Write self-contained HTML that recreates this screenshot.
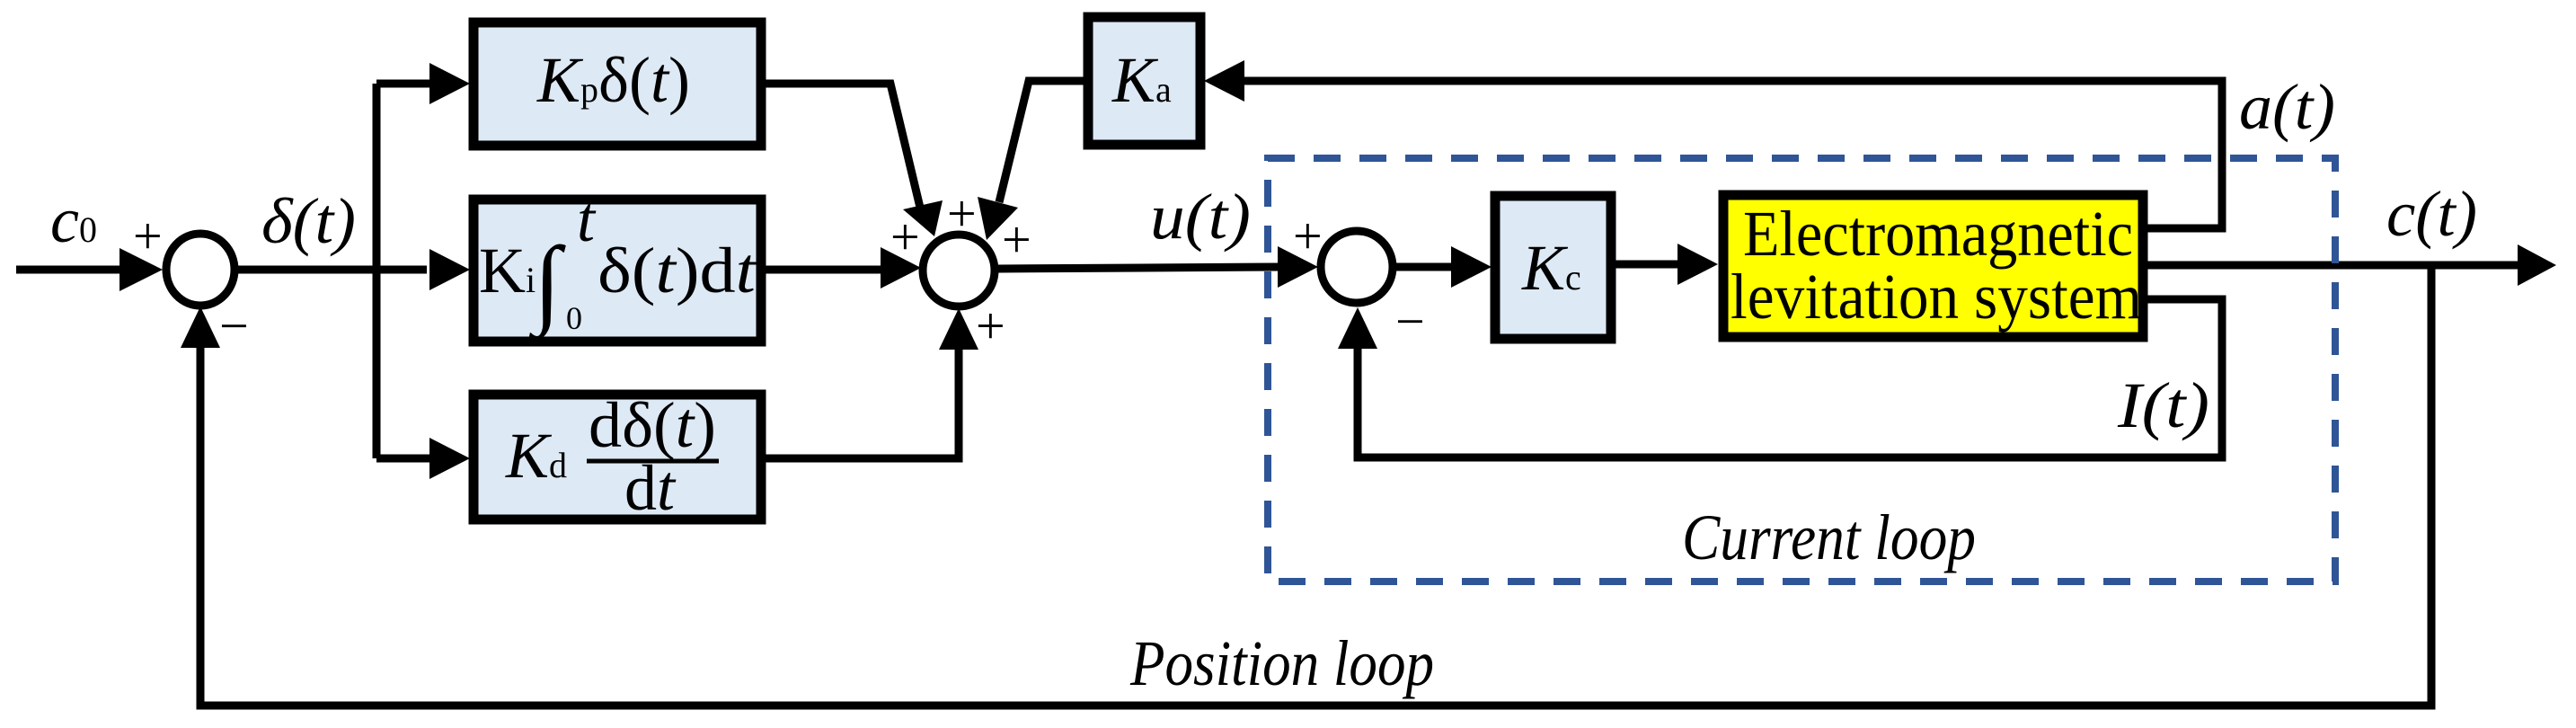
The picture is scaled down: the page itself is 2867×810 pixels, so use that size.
<!DOCTYPE html>
<html><head><meta charset="utf-8"><style>
html,body{margin:0;padding:0;background:#fff;}
svg{display:block;}
text{font-family:"Liberation Serif",serif;fill:#000;}
.m{font-style:italic;font-size:72px;}
.r{font-size:72px;}
.s{font-size:40px;}
.pm{font-size:58px;font-family:"Liberation Sans",sans-serif;}
</style></head><body>
<svg width="2867" height="810" viewBox="0 0 2867 810" xmlns="http://www.w3.org/2000/svg">
<g stroke="#000" stroke-width="9" fill="none">
<line x1="18" y1="300" x2="140" y2="300"/>
<line x1="265" y1="300" x2="475" y2="300"/>
<line x1="419" y1="93" x2="419" y2="510"/>
<line x1="419" y1="93" x2="480" y2="93"/>
<line x1="419" y1="510" x2="480" y2="510"/>
<polyline points="851,93 991,93 1025,235"/>
<line x1="851" y1="300" x2="985" y2="300"/>
<polyline points="851,510 1067,510 1067,385"/>
<polyline points="1207,90 1145,90 1112,225"/>
<line x1="1110" y1="299" x2="1425" y2="297"/>
<line x1="1554" y1="297" x2="1620" y2="297"/>
<line x1="1797" y1="294" x2="1870" y2="294"/>
<polyline points="2389,254 2473,254 2473,90 1380,90"/>
<polyline points="2389,333 2473,333 2473,509 1511,509 1511,385"/>
<line x1="2389" y1="295" x2="2805" y2="295"/>
<polyline points="2706,295 2706,785 223,785 223,385"/>
</g>
<g fill="#000">
<polygon points="181,300 133,276 133,324"/>
<polygon points="523,93 478,70 478,116"/>
<polygon points="523,300 478,277 478,323"/>
<polygon points="523,510 478,487 478,533"/>
<polygon points="223,341 201,387 245,387"/>
<polygon points="1040,263 1005,233 1049,223"/>
<polygon points="1098,267 1088,219 1133,231"/>
<polygon points="1025,298 980,275 980,321"/>
<polygon points="1067,343 1045,389 1089,389"/>
<polygon points="1340,90 1385,67 1385,113"/>
<polygon points="1467,297 1422,274 1422,320"/>
<polygon points="1660,297 1615,274 1615,320"/>
<polygon points="1912,294 1867,271 1867,317"/>
<polygon points="1511,342 1489,388 1533,388"/>
<polygon points="2845,295 2802,272 2802,318"/>
</g>
<g stroke="#000" stroke-width="9" fill="#fff">
<ellipse cx="223" cy="300" rx="38" ry="40"/>
<circle cx="1067" cy="301" r="40"/>
<circle cx="1510" cy="297" r="40"/>
</g>
<g stroke="#000" stroke-width="11" fill="#dde9f5">
<rect x="527" y="25" width="320" height="137"/>
<rect x="527" y="222" width="320" height="158"/>
<rect x="527" y="439" width="320" height="139"/>
<rect x="1211" y="19" width="125" height="142"/>
<rect x="1664" y="218" width="129" height="159"/>
<rect x="1918" y="217" width="467" height="158" fill="#ffff00"/>
</g>
<rect x="1411" y="176" width="1188" height="471" fill="none" stroke="#2f5597" stroke-width="8" stroke-dasharray="30 21"/>
<g class="pm">
<text x="148" y="282">+</text>
<text x="244" y="382">−</text>
<text x="991" y="283">+</text>
<text x="1054" y="257">+</text>
<text x="1115" y="286">+</text>
<text x="1086" y="382">+</text>
<text x="1439" y="282">+</text>
<text x="1553" y="377">−</text>
</g>
<text class="m" x="56" y="269">c<tspan class="s" font-style="normal">0</tspan></text>
<text class="m" x="291" y="270" textLength="105" lengthAdjust="spacingAndGlyphs">δ(t)</text>
<text class="m" x="1280" y="265" textLength="112" lengthAdjust="spacingAndGlyphs">u(t)</text>
<text class="m" x="2492" y="143" textLength="107" lengthAdjust="spacingAndGlyphs">a(t)</text>
<text class="m" x="2656" y="262" textLength="101" lengthAdjust="spacingAndGlyphs">c(t)</text>
<text class="m" x="2357" y="475" textLength="102" lengthAdjust="spacingAndGlyphs">I(t)</text>
<text class="m" x="1872" y="622" font-size="58" textLength="327" lengthAdjust="spacingAndGlyphs">Current loop</text>
<text class="m" x="1258" y="762" font-size="58" textLength="338" lengthAdjust="spacingAndGlyphs">Position loop</text>
<text class="m" x="598" y="113">K<tspan class="s" font-style="normal">p</tspan><tspan font-style="normal">δ(</tspan>t<tspan font-style="normal">)</tspan></text>
<text class="r" x="533" y="325">K<tspan class="s">i</tspan></text>
<text x="594" y="350" font-size="110">∫</text>
<text class="m" x="642" y="268" font-size="36">t</text>
<text x="630" y="366" font-size="36">0</text>
<text class="r" x="665" y="325" textLength="176" lengthAdjust="spacingAndGlyphs">δ(<tspan font-style="italic">t</tspan>)d<tspan font-style="italic">t</tspan></text>
<text class="m" x="563" y="531">K<tspan class="s" font-style="normal">d</tspan></text>
<text class="r" x="655" y="497" textLength="142" lengthAdjust="spacingAndGlyphs">dδ(<tspan font-style="italic">t</tspan>)</text>
<line x1="653" y1="513" x2="800" y2="513" stroke="#000" stroke-width="5"/>
<text class="r" x="695" y="567">d<tspan font-style="italic">t</tspan></text>
<text class="m" x="1238" y="113">K<tspan class="s" font-style="normal">a</tspan></text>
<text class="m" x="1694" y="322">K<tspan class="s" font-style="normal">c</tspan></text>
<text class="r" x="1940" y="284" font-size="64" textLength="434" lengthAdjust="spacingAndGlyphs">Electromagnetic</text>
<text class="r" x="1926" y="354" font-size="64" textLength="458" lengthAdjust="spacingAndGlyphs">levitation system</text>
</svg>
</body></html>
